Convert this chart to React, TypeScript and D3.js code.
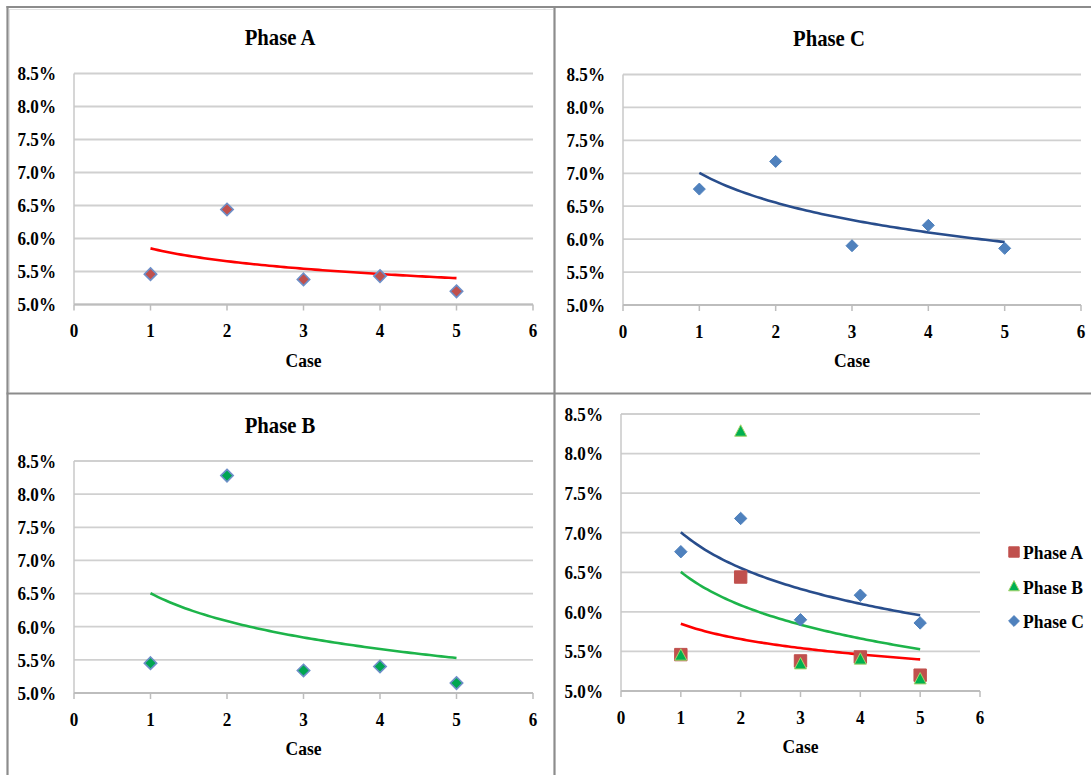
import React from "react";
import * as d3 from "d3";

// ---- Data ----
const cases = [1, 2, 3, 4, 5];
const phaseA = [0.0546, 0.0644, 0.0538, 0.0543, 0.052];
const phaseB = [0.0545, 0.0828, 0.0534, 0.054, 0.0515];
const phaseC = [0.0676, 0.0718, 0.059, 0.0621, 0.0586];
const yTicks = [0.05, 0.055, 0.06, 0.065, 0.07, 0.075, 0.08, 0.085];
const xTicks = [0, 1, 2, 3, 4, 5, 6];
const seriesNames = ["Phase A", "Phase B", "Phase C"];

const W = 1091;
const H = 775;
const FONT = "'Liberation Serif', 'Times New Roman', serif";
const SX = 0.9;

// logarithmic least-squares fit (Excel "Logarithmic" trendline)
function logFit(xs: number[], ys: number[]) {
  const lx = xs.map((x) => Math.log(x));
  const mx = d3.mean(lx) as number;
  const my = d3.mean(ys) as number;
  let sxy = 0;
  let sxx = 0;
  lx.forEach((l, i) => {
    sxy += (l - mx) * (ys[i] - my);
    sxx += (l - mx) * (l - mx);
  });
  const b = sxy / sxx;
  const a = my - b * mx;
  return (x: number) => a + b * Math.log(x);
}

type Marker = "diamond" | "square" | "triangle";
interface Series {
  values: number[];
  marker: Marker;
  fill: string;
  stroke: string;
  strokeWidth: number;
  size: number;
  trend: string;
}

function markerPath(m: Marker, s: number) {
  if (m === "diamond") return `M0,${-s}L${s},0L0,${s}L${-s},0Z`;
  if (m === "square") return `M${-s},${-s}H${s}V${s}H${-s}Z`;
  return `M0,${-s * 1.1}L${s},${s * 0.8}L${-s},${s * 0.8}Z`;
}

const pct = d3.format(".1%");

function T({ x, y, size, anchor = "middle", children }: { x: number; y: number; size: number; anchor?: string; children: React.ReactNode }) {
  return (
    <text
      transform={`translate(${x},${y}) scale(${SX},1)`}
      dy="0.36em"
      textAnchor={anchor}
      fontSize={size}
      fontWeight="bold"
      fontFamily={FONT}
      fill="#000"
    >
      {children}
    </text>
  );
}

interface PanelProps {
  x0: number;
  x1: number;
  yTop: number;
  yBot: number;
  title?: string;
  titleX?: number;
  titleY?: number;
  series: Series[];
}

function Panel({ x0, x1, yTop, yBot, title, titleX, titleY, series }: PanelProps) {
  const x = d3.scaleLinear().domain([0, 6]).range([x0, x1]);
  const y = d3.scaleLinear().domain([0.05, 0.085]).range([yBot, yTop]);
  const trendXs = d3.range(1, 5.0001, 0.05);
  return (
    <g>
      {title && (
        <T x={titleX as number} y={titleY as number} size={23}>
          {title}
        </T>
      )}
      {yTicks.map((t) => (
        <g key={t}>
          <line x1={x0} x2={x1} y1={y(t)} y2={y(t)} stroke="#d0d0d0" strokeWidth={1.8} />
          <T x={x0 - 18} y={y(t)} size={19} anchor="end">
            {pct(t)}
          </T>
        </g>
      ))}
      <line x1={x0} x2={x0} y1={yTop} y2={yBot} stroke="#c8c8c8" strokeWidth={1.5} />
      <line x1={x0} x2={x1} y1={yBot} y2={yBot} stroke="#bdbdbd" strokeWidth={1.8} />
      {xTicks.map((t) => (
        <g key={t}>
          <line x1={x(t)} x2={x(t)} y1={yBot} y2={yBot + 6} stroke="#bdbdbd" strokeWidth={1.5} />
          <T x={x(t)} y={yBot + 26} size={19}>
            {t}
          </T>
        </g>
      ))}
      <T x={(x0 + x1) / 2} y={yBot + 55} size={19.5}>
        Case
      </T>
      {series.map((s, i) => {
        const f = logFit(cases, s.values);
        const tl = d3
          .line<number>()
          .x((d) => x(d))
          .y((d) => y(f(d)));
        return <path key={"t" + i} d={tl(trendXs) || ""} fill="none" stroke={s.trend} strokeWidth={2.6} />;
      })}
      {series.map((s, i) => (
        <g key={"m" + i}>
          {s.values.map((v, j) => (
            <path
              key={j}
              d={markerPath(s.marker, s.size)}
              transform={`translate(${x(cases[j])},${y(v)})`}
              fill={s.fill}
              stroke={s.stroke}
              strokeWidth={s.strokeWidth}
            />
          ))}
        </g>
      ))}
    </g>
  );
}

const RED = "#c0504d";
const GREEN = "#00a651";
const BLUE = "#4f81bd";

export default function App() {
  const sA: Series = { values: phaseA, marker: "diamond", fill: RED, stroke: "#6d8fc8", strokeWidth: 1.6, size: 6.2, trend: "#ff0000" };
  const sB: Series = { values: phaseB, marker: "diamond", fill: GREEN, stroke: "#6d8fc8", strokeWidth: 1.6, size: 6.2, trend: "#1db44a" };
  const sC: Series = { values: phaseC, marker: "diamond", fill: BLUE, stroke: BLUE, strokeWidth: 1, size: 6, trend: "#284d8c" };
  const dA: Series = { ...sA, marker: "square", stroke: RED, strokeWidth: 1, size: 6.2 };
  const dB: Series = { ...sB, marker: "triangle", fill: "#00b050", stroke: "#a5d36a", strokeWidth: 1, size: 6 };
  const dC: Series = { ...sC, size: 6.2 };
  const legend = [dA, dB, dC];
  return (
    <svg width={W} height={H} style={{ position: "absolute", left: 0, top: 0, background: "#fff" }}>
      <rect x={0} y={0} width={W} height={H} fill="#fff" />
      {/* panel frames */}
      <g stroke="#8c8c8c" strokeWidth={2.2} fill="none">
        <line x1={7.5} x2={7.5} y1={6} y2={H} />
        <line x1={6.5} x2={W} y1={7} y2={7} />
        <line x1={554.5} x2={554.5} y1={6} y2={H} />
        <line x1={6.5} x2={W} y1={393.5} y2={393.5} />
      </g>
      <g stroke="#e2e2e2" strokeWidth={1} fill="none">
        <line x1={9.5} x2={9.5} y1={9} y2={392} />
        <line x1={9} x2={553} y1={9.5} y2={9.5} />
      </g>
      <Panel x0={74} x1={533} yTop={73.5} yBot={304.5} title="Phase A" titleX={280} titleY={37} series={[sA]} />
      <Panel x0={623} x1={1081} yTop={74.5} yBot={305} title="Phase C" titleX={829} titleY={38} series={[sC]} />
      <Panel x0={74} x1={533} yTop={461} yBot={693} title="Phase B" titleX={280} titleY={425} series={[sB]} />
      <Panel x0={621} x1={980} yTop={414} yBot={691} series={[dA, dB, dC]} />
      {legend.map((s, i) => (
        <g key={i} transform={`translate(0,${552 + i * 34.5})`}>
          <path d={markerPath(s.marker, s.marker === "square" ? 5.2 : 5.4)} transform="translate(1014,0)" fill={s.fill} stroke={s.marker === "triangle" ? "#a5d36a" : s.fill} strokeWidth={1} />
          <T x={1023} y={0} size={19.5} anchor="start">
            {seriesNames[i]}
          </T>
        </g>
      ))}
    </svg>
  );
}
